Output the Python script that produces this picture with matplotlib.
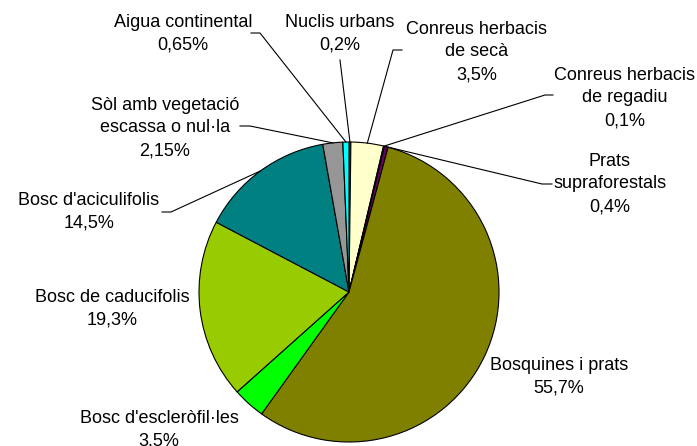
import numpy as np
import matplotlib
matplotlib.use('Agg')
from matplotlib import pyplot as plt

# dades (en ordre, començant a dalt i en sentit horari)
categories = ['Nuclis urbans', 'Conreus herbacis\nde secà', 'Conreus herbacis\nde regadiu',
              'Prats\nsupraforestals', 'Bosquines i prats', "Bosc d'escleròfil·les",
              'Bosc de caducifolis', "Bosc d'aciculifolis",
              'Sòl amb vegetació\nescassa o nul·la', 'Aigua continental']
values = [0.2, 3.5, 0.1, 0.4, 55.7, 3.5, 19.3, 14.5, 2.15, 0.65]
colors = ['#993366', '#FFFFCC', '#CCFFFF', '#660066', '#808000', '#00FF00',
          '#99CC00', '#008080', '#969696', '#00FFFF']

# posicions de les etiquetes (pixels, origen a dalt)
label_pos = [(340, 34), (477, 52), (625, 98), (610, 184), (559, 377),
             (159, 430), (112, 309), (89, 212), (165, 128), (183, 34)]
# línies guia: (x costat text, x colze, y) o None
leaders = [(340, 340, 60), (402, 393, 50), (553, 545, 95), (552, 542, 184), None,
           None, None, (162, 171, 212), (240, 250, 126), (251, 260, 33)]

W, H = 697, 446
font = {'family': ['Liberation Sans', 'DejaVu Sans'], 'size': 13}
matplotlib.rc('font', **font)

fig = plt.figure(figsize=(W / 100, H / 100), dpi=100)
ax = fig.add_axes([0, 0, 1, 1])

cx, cy, r = 349, H - 292, 150
wedges, _ = ax.pie(values, colors=colors, startangle=90, counterclock=False,
                   center=(cx, cy), radius=r,
                   wedgeprops={'edgecolor': 'black', 'linewidth': 0.8})

def fmt(v):
    return '{:g}%'.format(v).replace('.', ',')

for w, cat, v, (lx, ly), ld in zip(wedges, categories, values, label_pos, leaders):
    ax.text(lx, H - ly, cat + '\n' + fmt(v), ha='center', va='center',
            linespacing=1.45, color='black')
    if ld is not None:
        a = np.deg2rad((w.theta1 + w.theta2) / 2)
        px, py = cx + r * np.cos(a), cy + r * np.sin(a)
        x0, x1, y = ld
        ax.plot([x0, x1, px], [H - y, H - y, py], color='black', lw=0.8)

ax.set_xlim(0, W)
ax.set_ylim(0, H)
ax.set_aspect('auto')
ax.axis('off')

plt.savefig('out.png', dpi=100)
